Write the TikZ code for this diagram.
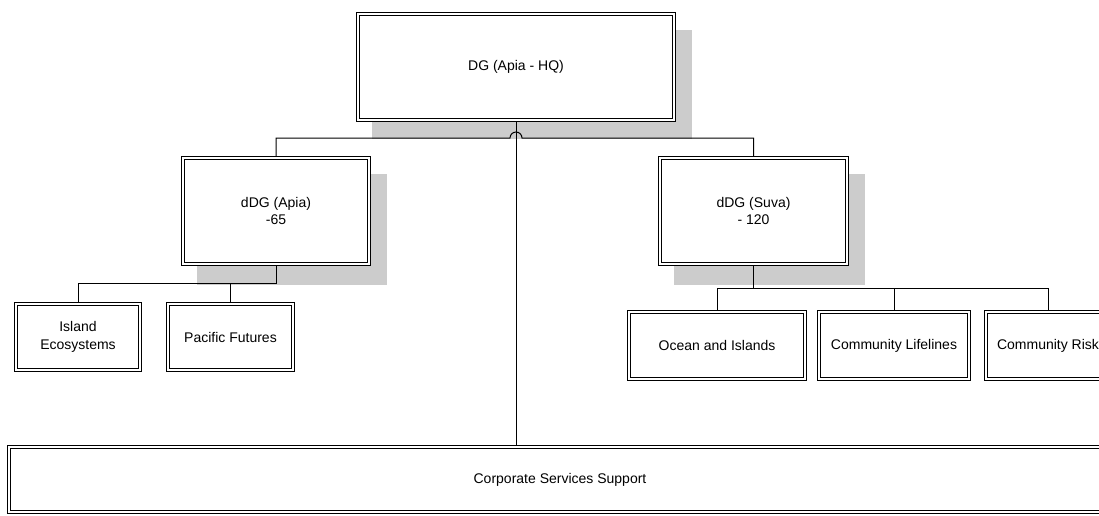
\documentclass[tikz,border=0pt]{standalone}
\usepackage{fontspec}
\setmainfont{Liberation Sans}
\usetikzlibrary{calc}
\usetikzlibrary{backgrounds}

\begin{document}
\begin{tikzpicture}[
x=1pt, y=-1pt,
font=\fontsize{14}{18}\selectfont,
link/.style={draw, line width=1pt},
shade/.style={fill=black!20}
]
\tikzstyle{box} = [draw, line width=1pt, double=white, double distance=2pt, fill=white, align=center, inner sep=0pt]
\tikzstyle{unit} = [box, minimum height=106pt]
\tikzstyle{team} = [box, minimum height=66pt]

\useasboundingbox (0,0) rectangle (1099,515);
\clip (0,0) rectangle (1099,515);

% boxes
\node[unit, minimum width=316pt] (dg) at (516,67) {DG (Apia - HQ)};
\node[unit, minimum width=186pt, font=\fontsize{14}{17}\selectfont] (apia) at (276,211) {dDG (Apia)\\-65};
\node[unit, minimum width=187pt, font=\fontsize{14}{17}\selectfont] (suva) at (753.5,211) {dDG (Suva)\\- 120};

\node[team, minimum width=124pt] (island) at (78,337) {Island\\Ecosystems};
\node[team, minimum width=125pt] (pacific) at (230.5,337) {Pacific Futures};

\node[team, minimum width=176pt, minimum height=67pt] (ocean) at (717,345.5) {Ocean and Islands};
\node[team, minimum width=150pt, minimum height=67pt] (lifelines) at (894,345.5) {Community Lifelines};
\node[team, minimum width=124pt, minimum height=67pt] (risk) at (1048,345.5) {Community Risk};

\node[box, minimum width=1102pt, minimum height=65pt] (corp) at (560,479.5) {Corporate Services Support};

\coordinate (hop) at (dg.south |- 0,138);

\begin{scope}[on background layer]
% drop shadows
\fill[shade] ($(dg.north west)+(14,16)$) rectangle ($(dg.south east)+(17,18)$);
\fill[shade] ($(apia.north west)+(14,16)$) rectangle ($(apia.south east)+(17,20)$);
\fill[shade] ($(suva.north west)+(14,16)$) rectangle ($(suva.south east)+(17,20)$);

% connectors
\draw[link] (dg.south) -- (dg.south |- corp.north);
\draw[link] (apia.north) |- ($(hop)+(-6,0)$) arc (180:360:6) -| (suva.north);

\draw[link] (island.north) |- ($(apia.south)+(0,19)$) -- (apia.south);
\draw[link] (pacific.north) |- ($(apia.south)+(0,19)$);

\draw[link] (ocean.north) |- ($(suva.south)+(0,24)$) -- (suva.south);
\draw[link] (risk.north) |- ($(suva.south)+(0,24)$);
\draw[link] (lifelines.north) -- (lifelines.north |- 0,288);
\end{scope}
\end{tikzpicture}
\end{document}
